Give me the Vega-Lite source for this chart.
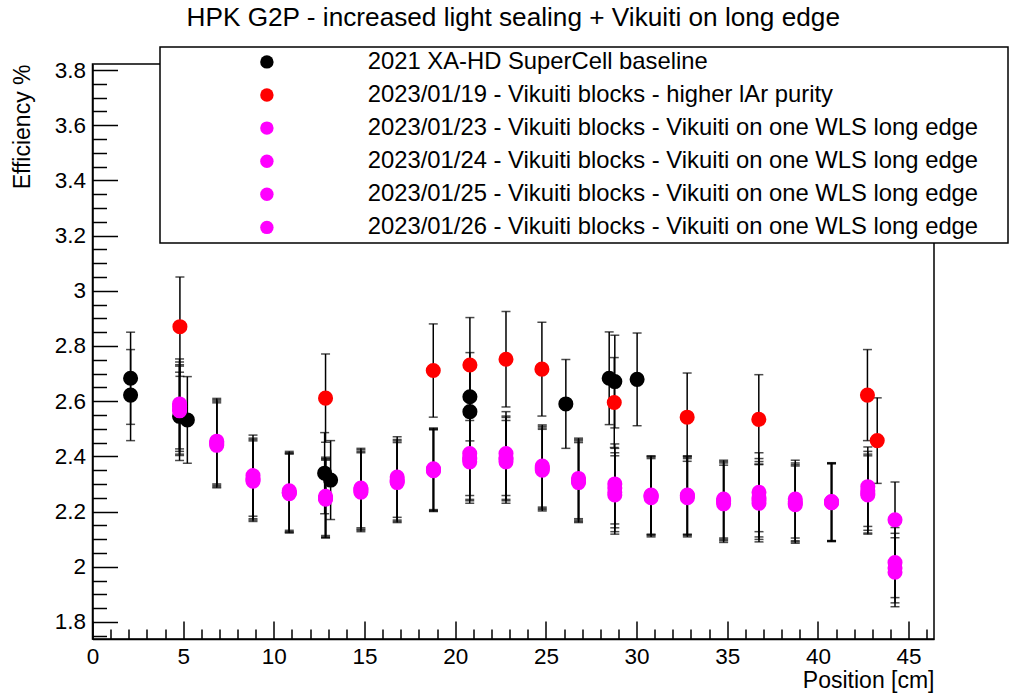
{
  "$schema": "https://vega.github.io/schema/vega-lite/v6.json",
  "width": 841.5,
  "height": 575,
  "autosize": {"type": "none"},
  "padding": {"left": 92.5, "top": 64, "right": 76, "bottom": 60},
  "background": "white",
  "title": {"text": "HPK G2P - increased light sealing + Vikuiti on long edge", "fontSize": 26.2, "font": "Liberation Sans", "fontWeight": "normal", "color": "black", "anchor": "middle", "baseline": "alphabetic", "offset": -6},
  "config": {
    "font": "Liberation Sans",
    "view": {"stroke": "black", "strokeWidth": 1.5},
    "legend": {"strokeWidth": 1.5},
    "axis": {"grid": false, "tickColor": "black", "tickWidth": 1.5, "domainColor": "black", "domainWidth": 1.5, "labelColor": "black", "titleColor": "black", "labelFont": "Liberation Sans", "titleFont": "Liberation Sans", "titleFontWeight": "normal", "labelFontSize": 22.5, "titleFontSize": 23, "labelFlush": false, "labelOverlap": false}
  },
  "datasets": {
    "pts": [
      {"s": "2021 XA-HD SuperCell baseline", "x": 2.1, "y": 2.683, "e": 0.167},
      {"s": "2021 XA-HD SuperCell baseline", "x": 2.1, "y": 2.622, "e": 0.165},
      {"s": "2021 XA-HD SuperCell baseline", "x": 4.8, "y": 2.545, "e": 0.16},
      {"s": "2021 XA-HD SuperCell baseline", "x": 5.23, "y": 2.532, "e": 0.157},
      {"s": "2021 XA-HD SuperCell baseline", "x": 12.8, "y": 2.339, "e": 0.147},
      {"s": "2021 XA-HD SuperCell baseline", "x": 13.13, "y": 2.314, "e": 0.143},
      {"s": "2021 XA-HD SuperCell baseline", "x": 20.81, "y": 2.616, "e": 0.16},
      {"s": "2021 XA-HD SuperCell baseline", "x": 20.81, "y": 2.562, "e": 0.16},
      {"s": "2021 XA-HD SuperCell baseline", "x": 26.1, "y": 2.59, "e": 0.161},
      {"s": "2021 XA-HD SuperCell baseline", "x": 28.49, "y": 2.683, "e": 0.168},
      {"s": "2021 XA-HD SuperCell baseline", "x": 28.8, "y": 2.671, "e": 0.168},
      {"s": "2021 XA-HD SuperCell baseline", "x": 30.03, "y": 2.679, "e": 0.168},
      {"s": "2023/01/19 - Vikuiti blocks - higher lAr purity", "x": 4.82, "y": 2.87, "e": 0.18},
      {"s": "2023/01/19 - Vikuiti blocks - higher lAr purity", "x": 12.85, "y": 2.611, "e": 0.16},
      {"s": "2023/01/19 - Vikuiti blocks - higher lAr purity", "x": 18.79, "y": 2.711, "e": 0.169},
      {"s": "2023/01/19 - Vikuiti blocks - higher lAr purity", "x": 20.81, "y": 2.731, "e": 0.172},
      {"s": "2023/01/19 - Vikuiti blocks - higher lAr purity", "x": 22.8, "y": 2.752, "e": 0.173},
      {"s": "2023/01/19 - Vikuiti blocks - higher lAr purity", "x": 24.78, "y": 2.716, "e": 0.17},
      {"s": "2023/01/19 - Vikuiti blocks - higher lAr purity", "x": 28.77, "y": 2.595, "e": 0.163},
      {"s": "2023/01/19 - Vikuiti blocks - higher lAr purity", "x": 32.79, "y": 2.542, "e": 0.16},
      {"s": "2023/01/19 - Vikuiti blocks - higher lAr purity", "x": 36.74, "y": 2.534, "e": 0.162},
      {"s": "2023/01/19 - Vikuiti blocks - higher lAr purity", "x": 42.73, "y": 2.622, "e": 0.165},
      {"s": "2023/01/19 - Vikuiti blocks - higher lAr purity", "x": 43.27, "y": 2.457, "e": 0.155},
      {"s": "2023/01/23 - Vikuiti blocks - Vikuiti on one WLS long edge", "x": 4.8, "y": 2.59, "e": 0.163},
      {"s": "2023/01/23 - Vikuiti blocks - Vikuiti on one WLS long edge", "x": 6.85, "y": 2.455, "e": 0.155},
      {"s": "2023/01/23 - Vikuiti blocks - Vikuiti on one WLS long edge", "x": 8.85, "y": 2.33, "e": 0.147},
      {"s": "2023/01/23 - Vikuiti blocks - Vikuiti on one WLS long edge", "x": 10.85, "y": 2.275, "e": 0.143},
      {"s": "2023/01/23 - Vikuiti blocks - Vikuiti on one WLS long edge", "x": 12.85, "y": 2.255, "e": 0.142},
      {"s": "2023/01/23 - Vikuiti blocks - Vikuiti on one WLS long edge", "x": 14.8, "y": 2.285, "e": 0.144},
      {"s": "2023/01/23 - Vikuiti blocks - Vikuiti on one WLS long edge", "x": 16.8, "y": 2.325, "e": 0.146},
      {"s": "2023/01/23 - Vikuiti blocks - Vikuiti on one WLS long edge", "x": 18.8, "y": 2.355, "e": 0.148},
      {"s": "2023/01/23 - Vikuiti blocks - Vikuiti on one WLS long edge", "x": 20.8, "y": 2.41, "e": 0.152},
      {"s": "2023/01/23 - Vikuiti blocks - Vikuiti on one WLS long edge", "x": 22.8, "y": 2.41, "e": 0.152},
      {"s": "2023/01/23 - Vikuiti blocks - Vikuiti on one WLS long edge", "x": 24.8, "y": 2.365, "e": 0.149},
      {"s": "2023/01/23 - Vikuiti blocks - Vikuiti on one WLS long edge", "x": 26.8, "y": 2.32, "e": 0.146},
      {"s": "2023/01/23 - Vikuiti blocks - Vikuiti on one WLS long edge", "x": 28.8, "y": 2.3, "e": 0.145},
      {"s": "2023/01/23 - Vikuiti blocks - Vikuiti on one WLS long edge", "x": 30.8, "y": 2.26, "e": 0.142},
      {"s": "2023/01/23 - Vikuiti blocks - Vikuiti on one WLS long edge", "x": 32.8, "y": 2.26, "e": 0.142},
      {"s": "2023/01/23 - Vikuiti blocks - Vikuiti on one WLS long edge", "x": 34.8, "y": 2.245, "e": 0.141},
      {"s": "2023/01/23 - Vikuiti blocks - Vikuiti on one WLS long edge", "x": 36.75, "y": 2.27, "e": 0.143},
      {"s": "2023/01/23 - Vikuiti blocks - Vikuiti on one WLS long edge", "x": 38.75, "y": 2.245, "e": 0.141},
      {"s": "2023/01/23 - Vikuiti blocks - Vikuiti on one WLS long edge", "x": 40.75, "y": 2.235, "e": 0.141},
      {"s": "2023/01/23 - Vikuiti blocks - Vikuiti on one WLS long edge", "x": 42.75, "y": 2.29, "e": 0.144},
      {"s": "2023/01/23 - Vikuiti blocks - Vikuiti on one WLS long edge", "x": 44.25, "y": 2.17, "e": 0.137},
      {"s": "2023/01/24 - Vikuiti blocks - Vikuiti on one WLS long edge", "x": 4.8, "y": 2.58, "e": 0.162},
      {"s": "2023/01/24 - Vikuiti blocks - Vikuiti on one WLS long edge", "x": 6.85, "y": 2.445, "e": 0.155},
      {"s": "2023/01/24 - Vikuiti blocks - Vikuiti on one WLS long edge", "x": 8.85, "y": 2.315, "e": 0.146},
      {"s": "2023/01/24 - Vikuiti blocks - Vikuiti on one WLS long edge", "x": 10.85, "y": 2.27, "e": 0.143},
      {"s": "2023/01/24 - Vikuiti blocks - Vikuiti on one WLS long edge", "x": 12.85, "y": 2.25, "e": 0.142},
      {"s": "2023/01/24 - Vikuiti blocks - Vikuiti on one WLS long edge", "x": 14.8, "y": 2.275, "e": 0.143},
      {"s": "2023/01/24 - Vikuiti blocks - Vikuiti on one WLS long edge", "x": 16.8, "y": 2.315, "e": 0.146},
      {"s": "2023/01/24 - Vikuiti blocks - Vikuiti on one WLS long edge", "x": 18.8, "y": 2.35, "e": 0.148},
      {"s": "2023/01/24 - Vikuiti blocks - Vikuiti on one WLS long edge", "x": 20.8, "y": 2.395, "e": 0.151},
      {"s": "2023/01/24 - Vikuiti blocks - Vikuiti on one WLS long edge", "x": 22.8, "y": 2.395, "e": 0.151},
      {"s": "2023/01/24 - Vikuiti blocks - Vikuiti on one WLS long edge", "x": 24.8, "y": 2.355, "e": 0.148},
      {"s": "2023/01/24 - Vikuiti blocks - Vikuiti on one WLS long edge", "x": 26.8, "y": 2.31, "e": 0.146},
      {"s": "2023/01/24 - Vikuiti blocks - Vikuiti on one WLS long edge", "x": 28.8, "y": 2.285, "e": 0.144},
      {"s": "2023/01/24 - Vikuiti blocks - Vikuiti on one WLS long edge", "x": 30.8, "y": 2.255, "e": 0.142},
      {"s": "2023/01/24 - Vikuiti blocks - Vikuiti on one WLS long edge", "x": 32.8, "y": 2.255, "e": 0.142},
      {"s": "2023/01/24 - Vikuiti blocks - Vikuiti on one WLS long edge", "x": 34.8, "y": 2.235, "e": 0.141},
      {"s": "2023/01/24 - Vikuiti blocks - Vikuiti on one WLS long edge", "x": 36.75, "y": 2.25, "e": 0.142},
      {"s": "2023/01/24 - Vikuiti blocks - Vikuiti on one WLS long edge", "x": 38.75, "y": 2.235, "e": 0.141},
      {"s": "2023/01/24 - Vikuiti blocks - Vikuiti on one WLS long edge", "x": 40.75, "y": 2.232, "e": 0.141},
      {"s": "2023/01/24 - Vikuiti blocks - Vikuiti on one WLS long edge", "x": 42.75, "y": 2.275, "e": 0.143},
      {"s": "2023/01/24 - Vikuiti blocks - Vikuiti on one WLS long edge", "x": 44.25, "y": 2.015, "e": 0.127},
      {"s": "2023/01/25 - Vikuiti blocks - Vikuiti on one WLS long edge", "x": 4.8, "y": 2.57, "e": 0.162},
      {"s": "2023/01/25 - Vikuiti blocks - Vikuiti on one WLS long edge", "x": 6.85, "y": 2.44, "e": 0.154},
      {"s": "2023/01/25 - Vikuiti blocks - Vikuiti on one WLS long edge", "x": 8.85, "y": 2.31, "e": 0.146},
      {"s": "2023/01/25 - Vikuiti blocks - Vikuiti on one WLS long edge", "x": 10.85, "y": 2.265, "e": 0.143},
      {"s": "2023/01/25 - Vikuiti blocks - Vikuiti on one WLS long edge", "x": 12.85, "y": 2.245, "e": 0.141},
      {"s": "2023/01/25 - Vikuiti blocks - Vikuiti on one WLS long edge", "x": 14.8, "y": 2.27, "e": 0.143},
      {"s": "2023/01/25 - Vikuiti blocks - Vikuiti on one WLS long edge", "x": 16.8, "y": 2.305, "e": 0.145},
      {"s": "2023/01/25 - Vikuiti blocks - Vikuiti on one WLS long edge", "x": 18.8, "y": 2.348, "e": 0.148},
      {"s": "2023/01/25 - Vikuiti blocks - Vikuiti on one WLS long edge", "x": 20.8, "y": 2.38, "e": 0.15},
      {"s": "2023/01/25 - Vikuiti blocks - Vikuiti on one WLS long edge", "x": 22.8, "y": 2.38, "e": 0.15},
      {"s": "2023/01/25 - Vikuiti blocks - Vikuiti on one WLS long edge", "x": 24.8, "y": 2.35, "e": 0.148},
      {"s": "2023/01/25 - Vikuiti blocks - Vikuiti on one WLS long edge", "x": 26.8, "y": 2.305, "e": 0.145},
      {"s": "2023/01/25 - Vikuiti blocks - Vikuiti on one WLS long edge", "x": 28.8, "y": 2.26, "e": 0.142},
      {"s": "2023/01/25 - Vikuiti blocks - Vikuiti on one WLS long edge", "x": 30.8, "y": 2.25, "e": 0.142},
      {"s": "2023/01/25 - Vikuiti blocks - Vikuiti on one WLS long edge", "x": 32.8, "y": 2.25, "e": 0.142},
      {"s": "2023/01/25 - Vikuiti blocks - Vikuiti on one WLS long edge", "x": 34.8, "y": 2.228, "e": 0.14},
      {"s": "2023/01/25 - Vikuiti blocks - Vikuiti on one WLS long edge", "x": 36.75, "y": 2.23, "e": 0.14},
      {"s": "2023/01/25 - Vikuiti blocks - Vikuiti on one WLS long edge", "x": 38.75, "y": 2.225, "e": 0.14},
      {"s": "2023/01/25 - Vikuiti blocks - Vikuiti on one WLS long edge", "x": 40.75, "y": 2.236, "e": 0.141},
      {"s": "2023/01/25 - Vikuiti blocks - Vikuiti on one WLS long edge", "x": 42.75, "y": 2.26, "e": 0.142},
      {"s": "2023/01/25 - Vikuiti blocks - Vikuiti on one WLS long edge", "x": 44.25, "y": 1.995, "e": 0.126},
      {"s": "2023/01/26 - Vikuiti blocks - Vikuiti on one WLS long edge", "x": 4.8, "y": 2.565, "e": 0.162},
      {"s": "2023/01/26 - Vikuiti blocks - Vikuiti on one WLS long edge", "x": 6.85, "y": 2.45, "e": 0.155},
      {"s": "2023/01/26 - Vikuiti blocks - Vikuiti on one WLS long edge", "x": 8.85, "y": 2.32, "e": 0.146},
      {"s": "2023/01/26 - Vikuiti blocks - Vikuiti on one WLS long edge", "x": 10.85, "y": 2.268, "e": 0.143},
      {"s": "2023/01/26 - Vikuiti blocks - Vikuiti on one WLS long edge", "x": 12.85, "y": 2.248, "e": 0.142},
      {"s": "2023/01/26 - Vikuiti blocks - Vikuiti on one WLS long edge", "x": 14.8, "y": 2.28, "e": 0.144},
      {"s": "2023/01/26 - Vikuiti blocks - Vikuiti on one WLS long edge", "x": 16.8, "y": 2.31, "e": 0.146},
      {"s": "2023/01/26 - Vikuiti blocks - Vikuiti on one WLS long edge", "x": 18.8, "y": 2.352, "e": 0.148},
      {"s": "2023/01/26 - Vikuiti blocks - Vikuiti on one WLS long edge", "x": 20.8, "y": 2.39, "e": 0.151},
      {"s": "2023/01/26 - Vikuiti blocks - Vikuiti on one WLS long edge", "x": 22.8, "y": 2.39, "e": 0.151},
      {"s": "2023/01/26 - Vikuiti blocks - Vikuiti on one WLS long edge", "x": 24.8, "y": 2.36, "e": 0.149},
      {"s": "2023/01/26 - Vikuiti blocks - Vikuiti on one WLS long edge", "x": 26.8, "y": 2.315, "e": 0.146},
      {"s": "2023/01/26 - Vikuiti blocks - Vikuiti on one WLS long edge", "x": 28.8, "y": 2.27, "e": 0.143},
      {"s": "2023/01/26 - Vikuiti blocks - Vikuiti on one WLS long edge", "x": 30.8, "y": 2.258, "e": 0.142},
      {"s": "2023/01/26 - Vikuiti blocks - Vikuiti on one WLS long edge", "x": 32.8, "y": 2.258, "e": 0.142},
      {"s": "2023/01/26 - Vikuiti blocks - Vikuiti on one WLS long edge", "x": 34.8, "y": 2.24, "e": 0.141},
      {"s": "2023/01/26 - Vikuiti blocks - Vikuiti on one WLS long edge", "x": 36.75, "y": 2.24, "e": 0.141},
      {"s": "2023/01/26 - Vikuiti blocks - Vikuiti on one WLS long edge", "x": 38.75, "y": 2.23, "e": 0.14},
      {"s": "2023/01/26 - Vikuiti blocks - Vikuiti on one WLS long edge", "x": 40.75, "y": 2.233, "e": 0.141},
      {"s": "2023/01/26 - Vikuiti blocks - Vikuiti on one WLS long edge", "x": 42.75, "y": 2.265, "e": 0.143},
      {"s": "2023/01/26 - Vikuiti blocks - Vikuiti on one WLS long edge", "x": 44.25, "y": 1.98, "e": 0.125}
    ]
  },
  "data": {"name": "pts"},
  "resolve": {"scale": {"x": "shared", "y": "shared"}, "axis": {"x": "independent", "y": "independent"}},
  "layer": [
    {
      "mark": {"type": "errorbar", "ticks": true, "size": 9, "thickness": 1.5, "color": "black"},
      "encoding": {
        "x": {"field": "x", "type": "quantitative", "scale": {"domain": [0, 46.4], "nice": false, "zero": false},
          "axis": {"orient": "bottom", "values": [1,2,3,4,6,7,8,9,11,12,13,14,16,17,18,19,21,22,23,24,26,27,28,29,31,32,33,34,36,37,38,39,41,42,43,44,46], "labels": false, "tickSize": -10, "domain": false, "title": null}},
        "y": {"field": "y", "type": "quantitative", "scale": {"domain": [1.738, 3.822], "nice": false, "zero": false},
          "axis": {"orient": "left", "values": [1.75,1.85,1.9,1.95,2.05,2.1,2.15,2.25,2.3,2.35,2.45,2.5,2.55,2.65,2.7,2.75,2.85,2.9,2.95,3.05,3.1,3.15,3.25,3.3,3.35,3.45,3.5,3.55,3.65,3.7,3.75], "labels": false, "tickSize": -14, "domain": false, "title": null}},
        "yError": {"field": "e"}
      }
    },
    {
      "mark": {"type": "point", "filled": true, "shape": "circle", "size": 227, "opacity": 1},
      "encoding": {
        "x": {"field": "x", "type": "quantitative",
          "axis": {"orient": "bottom", "values": [0,5,10,15,20,25,30,35,40,45], "tickSize": -18, "labelPadding": 24, "title": "Position [cm]", "titleAnchor": "end", "titlePadding": 2}},
        "y": {"field": "y", "type": "quantitative",
          "axis": {"orient": "left", "values": [1.8,2.0,2.2,2.4,2.6,2.8,3.0,3.2,3.4,3.6,3.8], "format": "~g", "tickSize": -25, "labelPadding": 32, "title": "Efficiency %", "titleAnchor": "end", "titlePadding": 20}},
        "color": {"field": "s", "type": "nominal",
          "scale": {"domain": ["2021 XA-HD SuperCell baseline", "2023/01/19 - Vikuiti blocks - higher lAr purity", "2023/01/23 - Vikuiti blocks - Vikuiti on one WLS long edge", "2023/01/24 - Vikuiti blocks - Vikuiti on one WLS long edge", "2023/01/25 - Vikuiti blocks - Vikuiti on one WLS long edge", "2023/01/26 - Vikuiti blocks - Vikuiti on one WLS long edge"], "range": ["#000000", "#ff0000", "#ff00ff", "#ff00ff", "#ff00ff", "#ff00ff"]},
          "legend": {"orient": "none", "legendX": 67.5, "legendY": -17, "title": null, "strokeColor": "black", "fillColor": "white", "padding": 3, "symbolOffset": 92, "labelOffset": 89, "rowPadding": 8.1, "labelFontSize": 23.8, "labelFont": "Liberation Sans", "labelColor": "black", "labelLimit": 2000, "symbolType": "circle", "symbolSize": 180, "symbolStrokeWidth": 0, "labelExpr": "datum.label + '\u00a0\u00a0\u00a0\u00a0\u200b'"}}
      }
    }
  ]
}
